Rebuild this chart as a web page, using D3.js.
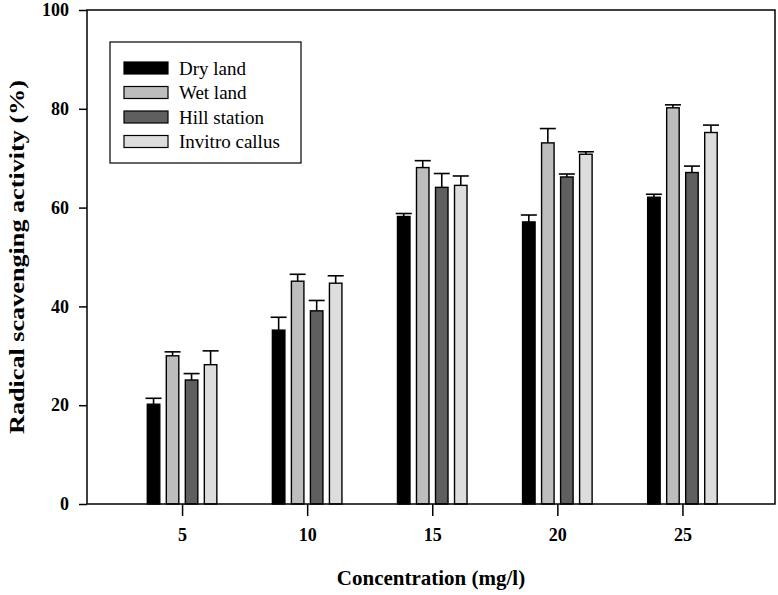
<!DOCTYPE html>
<html>
<head>
<meta charset="utf-8">
<script src="https://cdn.jsdelivr.net/npm/d3@7"></script>
<style>
  html, body { margin: 0; padding: 0; background: #fff; }
  svg { display: block; }
  text { font-family: "Liberation Serif", "Times New Roman", serif; }
</style>
</head>
<body>
<svg id="chart" width="778" height="595"></svg>
<script>
// ---- data ----
const categories = [5, 10, 15, 20, 25];
const seriesNames = ["Dry land", "Wet land", "Hill station", "Invitro callus"];
const dryLand = [20.2, 35.2, 58.2, 57.1, 62.1];
const wetLand = [30.0, 45.1, 68.1, 73.1, 80.2];
const hillStation = [25.1, 39.1, 64.1, 66.2, 67.1];
const invitroCallus = [28.2, 44.7, 64.5, 70.8, 75.2];
const dryErr = [1.2, 2.6, 0.6, 1.4, 0.6];
const wetErr = [0.8, 1.4, 1.4, 2.9, 0.6];
const hillErr = [1.3, 2.1, 2.8, 0.6, 1.3];
const invitroErr = [2.8, 1.5, 1.9, 0.5, 1.5];
const yTicks = [0, 20, 40, 60, 80, 100];

const seriesValues = [dryLand, wetLand, hillStation, invitroCallus];
const seriesErrors = [dryErr, wetErr, hillErr, invitroErr];
const colors = ["#000000", "#bdbdbd", "#5f5f5f", "#dddddd"];

// ---- layout ----
const mLeft = 87, mRight = 775, mTop = 10, mBottom = 504;
const svg = d3.select("#chart");

const x = d3.scaleLinear().domain([1.2, 28.7]).range([mLeft, mRight]);
const y = d3.scaleLinear().domain([0, 100]).range([mBottom, mTop]);

const pitch = 0.76;     // in x units, distance between bars in a group
const barW = 0.5;       // in x units

// bars
const g = svg.append("g");
seriesValues.forEach((vals, si) => {
  const off = (si - 1.5) * pitch;
  vals.forEach((v, ci) => {
    const cx = x(categories[ci] + off);
    const w = x(categories[ci] + off + barW / 2) - x(categories[ci] + off - barW / 2);
    const e = seriesErrors[si][ci];
    g.append("line")
      .attr("x1", cx).attr("x2", cx)
      .attr("y1", y(v)).attr("y2", y(v + e))
      .attr("stroke", "#000").attr("stroke-width", 1.6);
    g.append("line")
      .attr("x1", cx - 8).attr("x2", cx + 8)
      .attr("y1", y(v + e)).attr("y2", y(v + e))
      .attr("stroke", "#000").attr("stroke-width", 1.6);
    g.append("rect")
      .attr("x", cx - w / 2).attr("y", y(v))
      .attr("width", w).attr("height", y(0) - y(v))
      .attr("fill", colors[si]).attr("stroke", "#000").attr("stroke-width", 1.4);
  });
});

// frame
svg.append("rect")
  .attr("x", mLeft).attr("y", mTop)
  .attr("width", mRight - mLeft).attr("height", mBottom - mTop)
  .attr("fill", "none").attr("stroke", "#000").attr("stroke-width", 1.5);

// y axis
const yAxis = d3.axisLeft(y).tickValues(yTicks).tickSize(8).tickPadding(10).tickFormat(d3.format("d"));
const ya = svg.append("g").attr("transform", `translate(${mLeft},0)`).call(yAxis);
ya.select(".domain").remove();
ya.selectAll("line").attr("stroke", "#000").attr("stroke-width", 1.5);
ya.selectAll("text").attr("font-size", 18).attr("font-weight", "bold").attr("fill", "#000");

// x axis
const xAxis = d3.axisBottom(x).tickValues(categories).tickSize(12).tickPadding(12).tickFormat(d3.format("d"));
const xa = svg.append("g").attr("transform", `translate(0,${mBottom})`).call(xAxis);
xa.select(".domain").remove();
xa.selectAll("line").attr("stroke", "#000").attr("stroke-width", 1.5);
xa.selectAll("text").attr("font-size", 18).attr("font-weight", "bold").attr("fill", "#000");

// axis titles
svg.append("text")
  .attr("x", (mLeft + mRight) / 2).attr("y", 585)
  .attr("text-anchor", "middle")
  .attr("font-size", 21).attr("font-weight", "bold")
  .text("Concentration (mg/l)");

svg.append("text")
  .attr("transform", `translate(24,${(mTop + mBottom) / 2}) rotate(-90)`)
  .attr("text-anchor", "middle")
  .attr("font-size", 21).attr("font-weight", "bold")
  .attr("textLength", 354).attr("lengthAdjust", "spacingAndGlyphs")
  .text("Radical scavenging activity (%)");

// legend
const lg = svg.append("g");
lg.append("rect").attr("x", 110).attr("y", 42).attr("width", 191).attr("height", 121)
  .attr("fill", "#fff").attr("stroke", "#000").attr("stroke-width", 1.2);
seriesNames.forEach((name, i) => {
  const cy = 68 + i * 24.5;
  lg.append("rect").attr("x", 124).attr("y", cy - 6).attr("width", 44).attr("height", 12)
    .attr("fill", colors[i]).attr("stroke", "#000").attr("stroke-width", 1.2);
  lg.append("text").attr("x", 179).attr("y", cy + 6.5)
    .attr("font-size", 19).text(name);
});
</script>
</body>
</html>
